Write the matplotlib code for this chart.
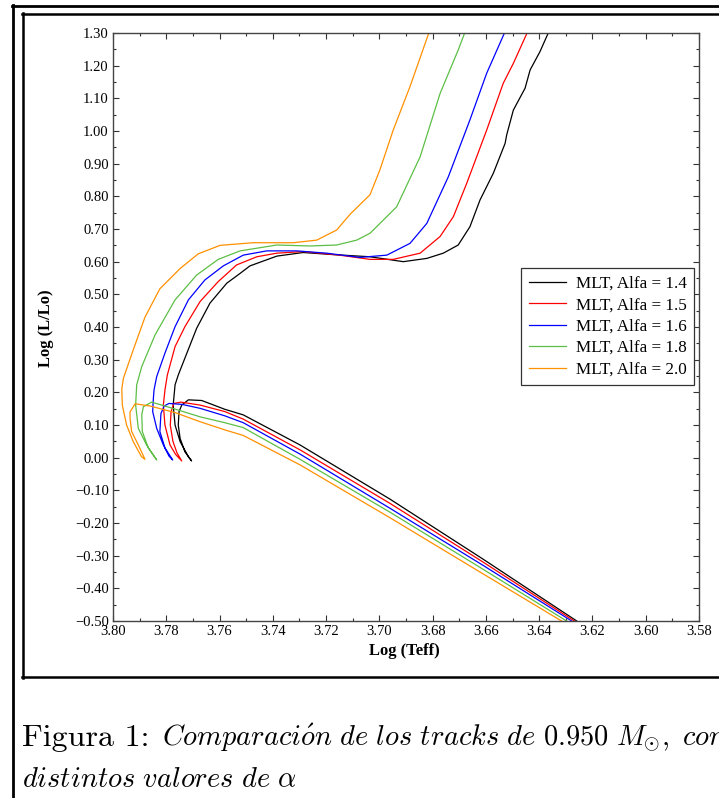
import matplotlib
matplotlib.use("Agg")
import matplotlib.pyplot as plt
from matplotlib.lines import Line2D
from matplotlib.ticker import MultipleLocator, FuncFormatter

plt.rcParams['font.family'] = ['Liberation Serif', 'DejaVu Serif']
plt.rcParams['mathtext.fontset'] = 'cm'

# Evolutionary tracks, 0.950 Msun, for several mixing-length parameters
alphas = ["1.4", "1.5", "1.6", "1.8", "2.0"]
colors = ["#000000", "#ff0000", "#0000ff", "#5cbf45", "#ff9000"]

teff_14 = [3.6259, 3.6610, 3.6960, 3.7298, 3.7511, 3.7580, 3.7667, 3.7717, 3.7742, 3.7752,
           3.7755, 3.7748, 3.7730, 3.7705, 3.7717, 3.7748, 3.7767, 3.7774, 3.7767, 3.7755,
           3.7686, 3.7636, 3.7573, 3.7523, 3.7486, 3.7385, 3.7286, 3.7180, 3.7035, 3.6910,
           3.6822, 3.6760, 3.6704, 3.6660, 3.6622, 3.6572, 3.6528, 3.6522, 3.6497, 3.6453,
           3.6434, 3.6397, 3.6372, 3.6360]
logl_14 = [-0.500, -0.311, -0.127, 0.039, 0.131, 0.148, 0.175, 0.177, 0.161, 0.141,
           0.100, 0.059, 0.018, -0.010, 0.003, 0.049, 0.100, 0.161, 0.223, 0.253,
           0.396, 0.473, 0.534, 0.564, 0.587, 0.617, 0.628, 0.622, 0.615, 0.600,
           0.610, 0.626, 0.651, 0.707, 0.789, 0.871, 0.962, 0.988, 1.064, 1.131,
           1.187, 1.243, 1.289, 1.310]

teff_15 = [3.6268, 3.6610, 3.6960, 3.7298, 3.7511, 3.7580, 3.7673, 3.7745, 3.7772, 3.7782,
           3.7785, 3.7775, 3.7760, 3.7742, 3.7765, 3.7786, 3.7805, 3.7811, 3.7805, 3.7796,
           3.7767, 3.7730, 3.7673, 3.7605, 3.7536, 3.7460, 3.7385, 3.7286, 3.7150, 3.7035,
           3.6948, 3.6847, 3.6772, 3.6722, 3.6672, 3.6597, 3.6535, 3.6497, 3.6440]
logl_15 = [-0.500, -0.320, -0.140, 0.024, 0.118, 0.141, 0.161, 0.170, 0.166, 0.140,
           0.100, 0.050, 0.015, -0.010, 0.010, 0.039, 0.100, 0.161, 0.207, 0.253,
           0.340, 0.401, 0.478, 0.539, 0.590, 0.615, 0.626, 0.631, 0.620, 0.607,
           0.607, 0.626, 0.677, 0.738, 0.840, 1.003, 1.146, 1.207, 1.310]

teff_16 = [3.6278, 3.6610, 3.6960, 3.7298, 3.7511, 3.7580, 3.7673, 3.7740, 3.7790, 3.7808,
           3.7820, 3.7824, 3.7805, 3.7776, 3.7790, 3.7811, 3.7836, 3.7851, 3.7849, 3.7846,
           3.7836, 3.7805, 3.7767, 3.7717, 3.7655, 3.7586, 3.7511, 3.7423, 3.7310, 3.7198,
           3.7073, 3.6972, 3.6885, 3.6822, 3.6741, 3.6660, 3.6597, 3.6525]
logl_16 = [-0.500, -0.330, -0.155, 0.011, 0.107, 0.128, 0.151, 0.163, 0.166, 0.158,
           0.135, 0.080, 0.030, -0.007, 0.005, 0.039, 0.090, 0.141, 0.175, 0.207,
           0.248, 0.320, 0.401, 0.483, 0.544, 0.587, 0.620, 0.633, 0.633, 0.626,
           0.613, 0.620, 0.656, 0.717, 0.860, 1.034, 1.177, 1.310]

teff_18 = [3.6297, 3.6610, 3.6960, 3.7298, 3.7511, 3.7580, 3.7673, 3.7780, 3.7855, 3.7886,
           3.7892, 3.7890, 3.7867, 3.7836, 3.7874, 3.7905, 3.7915, 3.7911, 3.7892, 3.7842,
           3.7767, 3.7686, 3.7605, 3.7523, 3.7385, 3.7260, 3.7160, 3.7085, 3.7035, 3.6935,
           3.6847, 3.6772, 3.6704, 3.6675]
logl_18 = [-0.500, -0.342, -0.167, -0.005, 0.092, 0.107, 0.125, 0.152, 0.170, 0.156,
           0.131, 0.080, 0.029, -0.007, 0.039, 0.090, 0.161, 0.223, 0.279, 0.376,
           0.483, 0.559, 0.607, 0.633, 0.651, 0.648, 0.651, 0.666, 0.687, 0.768,
           0.921, 1.115, 1.248, 1.310]

teff_20 = [3.6316, 3.6610, 3.6960, 3.7298, 3.7511, 3.7580, 3.7673, 3.7767, 3.7860, 3.7917,
           3.7936, 3.7936, 3.7930, 3.7905, 3.7880, 3.7893, 3.7924, 3.7949, 3.7965, 3.7967,
           3.7961, 3.7924, 3.7880, 3.7824, 3.7748, 3.7680, 3.7598, 3.7473, 3.7323, 3.7235,
           3.7160, 3.7110, 3.7035, 3.6998, 3.6948, 3.6885, 3.6810]
logl_20 = [-0.500, -0.356, -0.184, -0.022, 0.068, 0.085, 0.110, 0.138, 0.158, 0.165,
           0.140, 0.120, 0.080, 0.039, -0.005, 0.003, 0.049, 0.100, 0.161, 0.210,
           0.243, 0.330, 0.430, 0.517, 0.579, 0.624, 0.650, 0.658, 0.658, 0.666,
           0.697, 0.745, 0.805, 0.881, 1.003, 1.136, 1.310]

tracks = [(teff_14, logl_14), (teff_15, logl_15), (teff_16, logl_16),
          (teff_18, logl_18), (teff_20, logl_20)]

W, H = 719, 798
fig = plt.figure(figsize=(W / 100, H / 100), dpi=100)


def fx(px):
    return px / W


def fy(py):
    return 1 - py / H


ax = fig.add_axes([fx(113), fy(621), fx(699) - fx(113), fy(33) - fy(621)])

for (t, l), a, c in zip(tracks, alphas, colors):
    ax.plot(t, l, color=c, lw=0.9, label="MLT, Alfa = " + a)

ax.set_xlim(3.80, 3.58)
ax.set_ylim(-0.50, 1.30)
ax.xaxis.set_major_locator(MultipleLocator(0.02))
ax.xaxis.set_minor_locator(MultipleLocator(0.01))
ax.yaxis.set_major_locator(MultipleLocator(0.10))
ax.yaxis.set_minor_locator(MultipleLocator(0.05))
fmt = FuncFormatter(lambda v, pos: ("%.2f" % v).replace("-", "\u2212"))
ax.xaxis.set_major_formatter(fmt)
ax.yaxis.set_major_formatter(fmt)
ax.tick_params(which='both', direction='in', top=True, right=True,
               labelsize=10.5, width=0.8, color='#333333', pad=3)
ax.tick_params(which='major', length=4)
ax.tick_params(which='minor', length=2.5)
for s in ax.spines.values():
    s.set_color('#444444')
    s.set_linewidth(1.0)

ax.set_xlabel("Log (Teff)", fontsize=12, fontweight='bold')
ax.set_ylabel("Log (L/Lo)", fontsize=12, fontweight='bold')
ax.xaxis.set_label_coords(0.498, -0.038)
ax.yaxis.set_label_coords(-0.100, 0.498)

leg = ax.legend(loc='upper left', bbox_to_anchor=((521 - 113) / 586, (621 - 268) / 588),
                fontsize=12.3, frameon=True, fancybox=False, framealpha=1,
                borderpad=0.45, labelspacing=0.32, handlelength=2.2, handletextpad=0.55,
                borderaxespad=0)
leg.get_frame().set_edgecolor('#333333')
leg.get_frame().set_linewidth(0.9)


# page frames around the figure
def hline(y, x0, x1, lw):
    fig.add_artist(Line2D([fx(x0), fx(x1)], [fy(y), fy(y)], color='black', lw=lw))


def vline(x, y0, y1, lw):
    fig.add_artist(Line2D([fx(x), fx(x)], [fy(y0), fy(y1)], color='black', lw=lw))


vline(12.5, 4.5, 798, 2.0)
hline(5.5, 11.5, 719, 2.0)
vline(23, 13, 678, 1.8)
hline(14, 22, 719, 1.8)
hline(677, 22, 719, 1.8)

# caption below the plot
head = fig.text(fx(22), fy(746), "Figura 1:", family='cmr10', fontsize=23,
                ha='left', va='baseline')
fig.canvas.draw()
x_end = head.get_window_extent().x1
fig.text((x_end + 13) / W, fy(746),
         r"$\mathit{Comparaci\acute{o}n\ de\ los\ tracks\ de}\ 0.950\ M_{\odot},\ \mathit{con}$",
         fontsize=20.5, ha='left', va='baseline')
fig.text(fx(22), fy(787), r"$\mathit{distintos\ valores\ de}\ \alpha$",
         fontsize=20.5, ha='left', va='baseline')

fig.savefig("out.png", dpi=100)
